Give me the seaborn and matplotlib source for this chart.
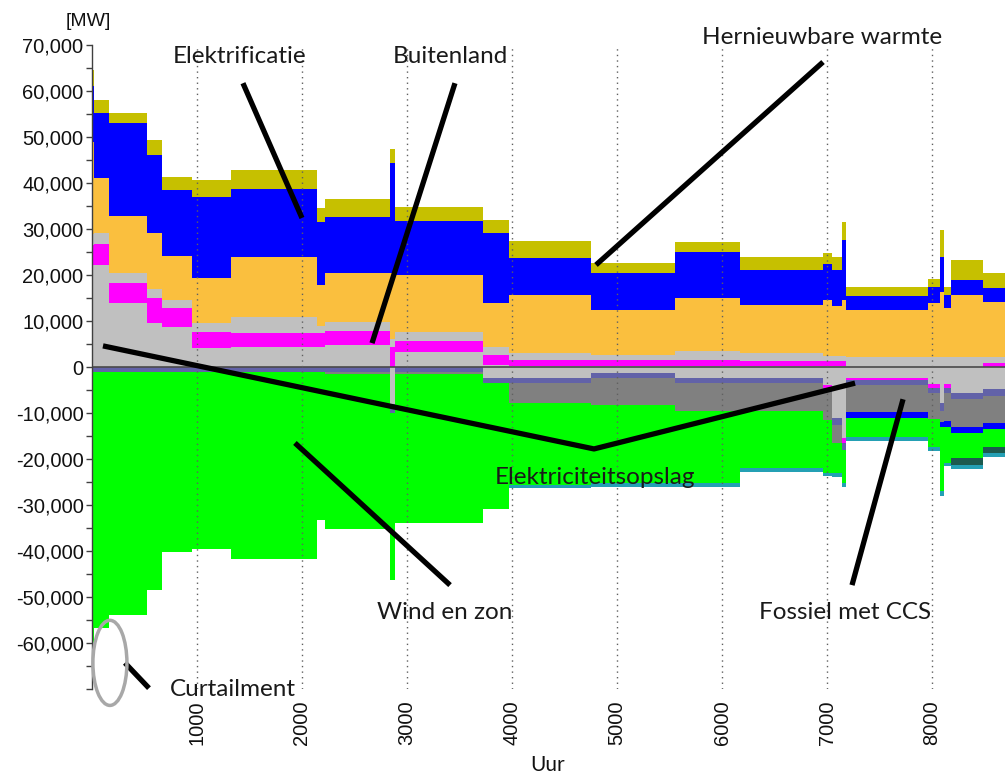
import numpy as np
import matplotlib
matplotlib.use("Agg")
import matplotlib.pyplot as plt
from matplotlib.patches import Ellipse
import seaborn as sns

# start hour of each block (step profile), last block runs to end of year
hours = [0, 20, 160, 520, 670, 950, 1320, 2140, 2220, 2840, 2890, 3720, 3970,
         4750, 5550, 6170, 6960, 7050, 7143, 7180, 7960, 8076, 8110, 8180, 8486]
end_hour = 8760

# positive side, MW per layer, from 0 upwards
grey_low = [22200, 22200, 13900, 9600, 8700, 4100, 4300, 4300, 4800, 0, 3300, 500, 200,
            200, 200, 300, 300, 300, 300, 0, 0, 0, 0, 0, 0]
magenta = [4300, 4600, 4400, 5400, 4100, 3500, 3200, 3200, 3000, 4300, 2400, 2100, 1300,
           1300, 1300, 1000, 1000, 1000, 1000, 0, 0, 0, 0, 0, 900]
grey_high = [2500, 2300, 2100, 2000, 1800, 2000, 3300, 1500, 2000, 1700, 1900, 1700, 1500,
             1100, 2000, 1700, 1200, 1200, 1200, 2200, 2200, 2200, 2200, 2200, 1300]
orange = [20000, 11900, 12400, 12100, 9500, 9700, 13200, 8800, 10600, 14400, 12400, 9600, 12700,
          9800, 11500, 10500, 12100, 10800, 12100, 10200, 11700, 14100, 10600, 13500, 11900]
blue = [12000, 14200, 20200, 17000, 14400, 17700, 14800, 13700, 12200, 23900, 11700, 15200, 8000,
        8000, 10000, 7600, 7800, 7800, 13000, 3000, 3500, 7600, 2900, 3200, 3100]
olive = [3500, 2800, 2200, 3200, 2800, 3600, 4100, 3100, 3900, 3100, 3100, 2900, 3700,
         2200, 2200, 2800, 2400, 2900, 3900, 2000, 1700, 5900, 1700, 4400, 3200]

# negative side, MW per layer, from 0 downwards
grey_neg = [0, 0, 0, 0, 0, 0, 0, 0, 0, 8000, 0, 2400, 2400,
            1300, 2400, 2400, 4000, 11100, 15400, 2400, 3600, 7800, 3700, 5700, 4800]
magenta_neg = [0, 0, 0, 0, 0, 0, 0, 0, 0, 0, 0, 0, 0,
               0, 0, 0, 600, 0, 1100, 400, 900, 0, 900, 0, 0]
slate_neg = [1100, 1100, 1100, 1100, 1100, 1100, 1100, 1100, 1100, 2000, 1100, 1100, 1100,
             1100, 1100, 1100, 900, 1500, 1500, 1100, 1200, 1700, 1100, 1300, 1500]
darkgrey_neg = [0, 0, 0, 0, 0, 0, 0, 0, 400, 0, 400, 0, 4300,
                5900, 6100, 6100, 6000, 3900, 0, 5900, 5600, 2500, 6000, 6000, 5900]
blue_neg = [0, 0, 0, 0, 0, 0, 0, 0, 0, 0, 0, 0, 0,
            0, 0, 0, 0, 0, 0, 1300, 0, 1000, 1300, 1300, 1300]
green_neg = [61900, 55600, 52800, 47400, 39100, 38500, 40600, 32200, 33700, 36300, 32400, 27400, 17900,
             16900, 15600, 12400, 11500, 6500, 7200, 4100, 6100, 14000, 7900, 5500, 3900]
darkteal_neg = [0, 0, 0, 0, 0, 0, 0, 0, 0, 0, 0, 0, 0,
                0, 0, 0, 0, 0, 0, 0, 0, 0, 0, 1500, 1300]
teal_neg = [0, 0, 0, 0, 0, 0, 0, 0, 0, 0, 0, 0, 600,
            800, 800, 800, 700, 800, 800, 900, 900, 1000, 600, 900, 900]

x_ticks = [1000, 2000, 3000, 4000, 5000, 6000, 7000, 8000]
y_ticks = list(range(-60000, 70001, 10000))

pos_layers = [(grey_low, "#c0c0c0"), (magenta, "#ff00ff"), (grey_high, "#c0c0c0"),
              (orange, "#fabf3e"), (blue, "#0000ff"), (olive, "#c6c000")]
neg_layers = [(grey_neg, "#c0c0c0"), (magenta_neg, "#ff00ff"), (slate_neg, "#6262a8"),
              (darkgrey_neg, "#808080"), (blue_neg, "#0000ff"), (green_neg, "#00ff00"),
              (darkteal_neg, "#1c5a4e"), (teal_neg, "#24a0b4")]

sns.set_style("white")
plt.rcParams["font.family"] = ["Liberation Sans", "DejaVu Sans"]

fig = plt.figure(figsize=(10.05, 7.76), dpi=100)
ax = fig.add_axes([0.0915, 0.112, 0.9085, 0.830])

x = np.array(hours + [end_hour])

base = np.zeros(len(x))
for vals, col in pos_layers:
    v = np.array(vals + [vals[-1]], dtype=float)
    ax.fill_between(x, base, base + v, step="post", color=col, lw=0, antialiased=False)
    base = base + v

base = np.zeros(len(x))
for vals, col in neg_layers:
    v = np.array(vals + [vals[-1]], dtype=float)
    ax.fill_between(x, base, base - v, step="post", color=col, lw=0, antialiased=False)
    base = base - v

ax.axhline(0, color="#4a4a4a", lw=1.2, zorder=2)

ax.set_xlim(0, 8695)
ax.set_ylim(-70000, 70000)
ax.set_xticks(x_ticks)
ax.set_xticklabels([str(t) for t in x_ticks], rotation=90, fontsize=14.5, color="#111111")
ax.set_yticks(y_ticks)
ax.set_yticklabels([f"{t:,}" for t in y_ticks], fontsize=14.5, color="#111111")
ax.set_yticks(list(range(-70000, 70001, 5000)), minor=True)
ax.tick_params(axis="x", length=0, pad=8)
ax.tick_params(axis="y", which="both", length=4, width=1, color="#404040", pad=2, left=True)

ax.set_axisbelow(False)
ax.grid(axis="x", linestyle=(0, (1, 3)), color="#606060", lw=1)
ax.grid(axis="y", visible=False)

sns.despine(ax=ax, top=True, right=True, bottom=True, left=False)
ax.spines["left"].set_color("#404040")
ax.spines["left"].set_linewidth(1)

fig.text(88 / 1005, 1 - 22 / 776, "[MW]", fontsize=14, ha="center", va="center", color="#111111")
fig.text(548 / 1005, 1 - 765 / 776, "Uur", fontsize=15, ha="center", va="center",
         family=["Lato", "DejaVu Sans"], color="#111111")

# annotations
note = dict(fontsize=17.5, family=["Lato", "DejaVu Sans"], color="#1a1a1a",
            ha="center", va="center", clip_on=False, zorder=6)
lead = dict(color="black", lw=3.8, solid_capstyle="butt", clip_on=False, zorder=5)

ax.text(1410, 67400, "Elektrificatie", **note)
ax.plot([1438, 2000], [61700, 32400], **lead)

ax.text(3410, 67400, "Buitenland", **note)
ax.plot([3457, 2667], [61700, 5200], **lead)

ax.text(6952, 71700, "Hernieuwbare warmte", **note)
ax.plot([6962, 4800], [66300, 22200], **lead)

ax.text(4790, -24100, "Elektriciteitsopslag", **note)
ax.plot([105, 4781, 7267], [4600, -17800, -3500], **lead)

ax.text(3362, -53300, "Wind en zon", **note)
ax.plot([1933, 3410], [-16500, -47400], **lead)

ax.text(7171, -53300, "Fossiel met CCS", **note)
ax.plot([7238, 7724], [-47400, -7000], **lead)

ax.text(1343, -70000, "Curtailment", **note)
ax.plot([314, 543], [-64300, -69800], **lead)
ax.add_patch(Ellipse((171, -64300), 324, 18500, fill=False, edgecolor="#a8a8a8",
                     lw=2.5, clip_on=False, zorder=5))

fig.savefig("out.png", dpi=100)
